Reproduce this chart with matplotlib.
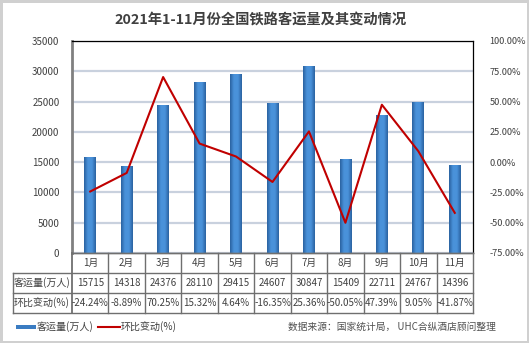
import matplotlib
matplotlib.use("Agg")
import matplotlib.pyplot as plt
import numpy as np
from matplotlib.colors import LinearSegmentedColormap
from matplotlib.patches import Rectangle
from matplotlib.lines import Line2D

plt.rcParams['font.family'] = ['Noto Sans CJK SC', 'DejaVu Sans']

months = ['1月', '2月', '3月', '4月', '5月', '6月', '7月', '8月', '9月', '10月', '11月']
passengers = [15715, 14318, 24376, 28110, 29415, 24607, 30847, 15409, 22711, 24767, 14396]
change_pct = [-24.24, -8.89, 70.25, 15.32, 4.64, -16.35, 25.36, -50.05, 47.39, 9.05, -41.87]
row_labels = ['客运量(万人)', '环比变动(%)']
title = '2021年1-11月份全国铁路客运量及其变动情况'
source = '数据来源：国家统计局， UHC合纵酒店顾问整理'

W, H = 529, 343
fig = plt.figure(figsize=(W / 100, H / 100), dpi=100)
fig.patch.set_facecolor('white')
fig.patch.set_edgecolor('#D0D0D0')
fig.patch.set_linewidth(2.5)

def fx(px):
    return px / W

def fy(py):
    return 1 - py / H

L, R, T, B = 72, 473, 41, 253
ax = fig.add_axes([fx(L), fy(B), fx(R) - fx(L), fy(T) - fy(B)])
n = len(months)
x = np.arange(n)
bw = 0.32

txt = '#404040'
cmap = LinearSegmentedColormap.from_list('bar', ['#2A62A0', '#4A92DA', '#4A92DA', '#2A62A0'])
grad = np.linspace(0, 1, 64).reshape(1, -1)
bars = ax.bar(x, passengers, width=bw, color='none', edgecolor='none', zorder=2)
for b in bars:
    ax.imshow(grad, cmap=cmap, aspect='auto', zorder=2,
              extent=[b.get_x(), b.get_x() + b.get_width(), 0, b.get_height()])
ax.set_xlim(-0.5, n - 0.5)
ax.set_ylim(0, 35000)
ax.set_yticks(np.arange(0, 35001, 5000))
ax.set_xticks([])
ax.yaxis.grid(True, color='#C9D1DE', linewidth=1.6)
ax.set_axisbelow(True)
ax.tick_params(axis='y', length=0, pad=9, labelsize=7, labelcolor=txt)
for s in ['top', 'right']:
    ax.spines[s].set_color('#000000')
    ax.spines[s].set_linewidth(0.9)
ax.spines['left'].set_color('#808080')
ax.spines['left'].set_linewidth(2)
ax.spines['bottom'].set_color('#808080')
ax.spines['bottom'].set_linewidth(1)

ax2 = ax.twinx()
ax2.plot(x, change_pct, color='#C00000', linewidth=1.5, zorder=5)
ax2.set_ylim(-75, 100)
ax2.set_yticks(np.arange(-75, 101, 25))
ax2.set_yticklabels([f'{v:.2f}%' for v in np.arange(-75, 101, 25)])
ax2.tick_params(axis='y', length=0, pad=12, labelsize=6.6, labelcolor=txt)
for s in ax2.spines.values():
    s.set_visible(False)

fig.text(0.493, fy(20), title, ha='center', va='center', fontsize=10.3,
         fontweight='bold', color=txt)

# table
colw = (R - L) / n
rows_y = [253, 273, 293, 313]
lc = '#6F6F6F'
fig.add_artist(Line2D([fx(L), fx(R)], [fy(253), fy(253)], color=lc, lw=1))
for yy in rows_y[1:]:
    fig.add_artist(Line2D([fx(13), fx(R)], [fy(yy), fy(yy)], color=lc, lw=1))
for i in range(n + 1):
    xx = L + i * colw
    fig.add_artist(Line2D([fx(xx), fx(xx)], [fy(253), fy(313)], color=lc, lw=1.3 if i == 0 else 1))
fig.add_artist(Line2D([fx(13), fx(13)], [fy(273), fy(313)], color=lc, lw=1))
for i in range(n):
    cx = fx(L + (i + 0.5) * colw)
    fig.text(cx, fy(263), months[i], ha='center', va='center', fontsize=7, color=txt)
    fig.text(cx, fy(283), f'{passengers[i]}', ha='center', va='center', fontsize=7, color=txt)
    fig.text(cx, fy(303), f'{change_pct[i]:.2f}%', ha='center', va='center', fontsize=7, color=txt)
for j, lab in enumerate(row_labels):
    fig.text(fx(14), fy(283 + 20 * j), lab, ha='left', va='center', fontsize=7.2, color=txt)

# legend
fig.add_artist(Rectangle((fx(16), fy(328.5)), fx(36) - fx(16), fy(325) - fy(328.5),
                         transform=fig.transFigure, facecolor='#3A7CC2', edgecolor='none'))
fig.text(fx(37), fy(326.5), '客运量(万人)', ha='left', va='center', fontsize=7.2, color=txt)
fig.add_artist(Line2D([fx(98), fx(120)], [fy(326.5), fy(326.5)], color='#C00000', lw=1.5))
fig.text(fx(121), fy(326.5), '环比变动(%)', ha='left', va='center', fontsize=7.2, color=txt)
fig.text(fx(496), fy(326.5), source, ha='right', va='center', fontsize=7, color='#505050')

fig.savefig('out.png', dpi=100)
